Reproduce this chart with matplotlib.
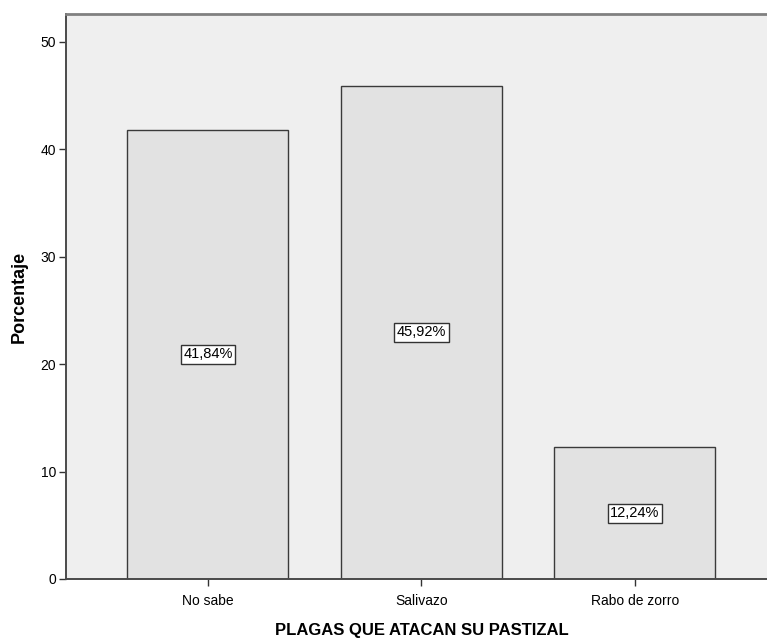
import matplotlib.pyplot as plt
import numpy as np

categories = ["No sabe", "Salivazo", "Rabo de zorro"]
percentages = [41.84, 45.92, 12.24]
value_labels = ["41,84%", "45,92%", "12,24%"]
y_ticks = [0, 10, 20, 30, 40, 50]

plt.rcParams["font.family"] = ["Liberation Sans", "DejaVu Sans"]

fig = plt.figure(figsize=(7.67, 6.39), dpi=100)
# axes run slightly past the right edge of the canvas
ax = fig.add_axes([0.086, 0.094, 0.927, 0.884])
ax.set_facecolor("#efefef")

x = np.arange(len(categories))
ax.bar(x, percentages, width=0.754, color="#e2e2e2", edgecolor="#3a3a3a",
       linewidth=1.0, zorder=2)

for xi, v, lab in zip(x, percentages, value_labels):
    ax.text(xi, v / 2, lab, ha="center", va="center", fontsize=10.5,
            color="black", zorder=3,
            bbox=dict(boxstyle="square,pad=0.18", facecolor="white",
                      edgecolor="#333333", linewidth=1.0))

ax.set_xlim(-0.665, 2.665)
ax.set_ylim(0, 52.6)
ax.set_yticks(y_ticks)
ax.set_xticks(x)
ax.set_xticklabels(categories)
ax.tick_params(axis="both", direction="out", length=5, width=1,
               color="#333333", labelsize=10, pad=2)
ax.tick_params(axis="x", pad=6)

for side in ("left", "bottom"):
    ax.spines[side].set_color("#4a4a4a")
    ax.spines[side].set_linewidth(1.4)
ax.spines["top"].set_color("#808080")
ax.spines["top"].set_linewidth(2)
ax.spines["right"].set_visible(False)

ax.set_ylabel("Porcentaje", fontsize=13, fontweight="bold", labelpad=9)
ax.set_xlabel("PLAGAS QUE ATACAN SU PASTIZAL", fontsize=12,
              fontweight="bold", labelpad=11)

fig.savefig("out.png", dpi=100)
